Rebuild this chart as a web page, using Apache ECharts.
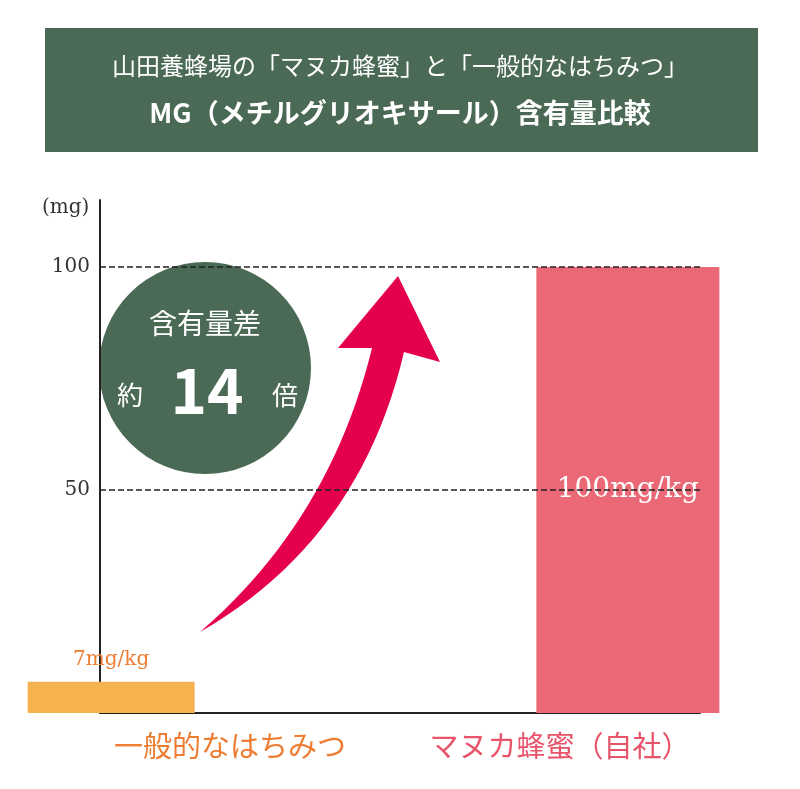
<!DOCTYPE html>
<html><head><meta charset="utf-8">
<script src="https://cdn.jsdelivr.net/npm/echarts@6/dist/echarts.min.js"></script>
<style>html,body{margin:0;padding:0;background:#fff}#c{width:800px;height:789px}</style>
</head><body><div id="c"></div>
<script>
const categories = ['一般的なはちみつ', 'マヌカ蜂蜜（自社）'];
const values = [7, 100];
const valueLabels = ['7mg/kg', '100mg/kg'];
const yTicks = [50, 100];
const barPos = [111, 436];
const barColors = ['#f6b24f', '#eb6877'];

function quad(p0, p1, p2, n) {
  const pts = [];
  for (let i = 0; i <= n; i++) {
    const t = i / n, u = 1 - t;
    pts.push([u*u*p0[0] + 2*u*t*p1[0] + t*t*p2[0], u*u*p0[1] + 2*u*t*p1[1] + t*t*p2[1]]);
  }
  return pts;
}
const arrowPts = quad([200,632],[330,520],[372,348],24)
  .concat([[338,348],[398,276],[440,362]])
  .concat(quad([404,352],[360,540],[200,632],24));

const chart = echarts.init(document.getElementById('c'));
const CJK = '"Noto Sans CJK JP", sans-serif';
const SERIF = '"DejaVu Serif", "Liberation Serif", serif';
chart.setOption({
  animation: false,
  grid: {left: 100, right: 100, top: 200, bottom: 76},
  xAxis: {type: 'value', min: 0, max: 600, axisLine: {show: true, onZero: false, lineStyle: {color: '#222', width: 2}},
    axisTick: {show: false}, axisLabel: {show: false}, splitLine: {show: false}},
  yAxis: {type: 'value', min: 0, max: 115, interval: 50,
    axisLine: {show: true, lineStyle: {color: '#222', width: 2}}, axisTick: {show: false},
    axisLabel: {formatter: v => yTicks.includes(v) ? String(v) : '', fontFamily: SERIF, fontSize: 20, color: '#333', margin: 10},
    splitLine: {show: false}},
  series: [
    {type: 'bar', data: [[barPos[0], values[0]]], barWidth: 167, itemStyle: {color: barColors[0]},
     label: {show: true, position: 'top', formatter: valueLabels[0], fontFamily: SERIF, fontSize: 20, color: '#ee7c32', distance: 12},
     markLine: {silent: true, symbol: 'none', label: {show: false},
       lineStyle: {color: '#222', type: 'dashed', width: 1.5}, data: yTicks.map(v => ({yAxis: v}))}},
    {type: 'bar', data: [[barPos[1], values[1]]], barWidth: 183, itemStyle: {color: barColors[1]},
     label: {show: true, position: 'inside', formatter: valueLabels[1], fontFamily: SERIF, fontSize: 28, color: '#fff'}}
  ],
  graphic: [
    {type: 'rect', shape: {x: 45, y: 28, width: 713, height: 124}, style: {fill: '#4b6a55'}},
    {type: 'text', x: 400, y: 66, style: {text: '山田養蜂場の「マヌカ蜂蜜」と「一般的なはちみつ」', fill: '#fff', font: '24px ' + CJK, align: 'center', verticalAlign: 'middle'}},
    {type: 'text', x: 400, y: 113, style: {text: 'MG（メチルグリオキサール）含有量比較', fill: '#fff', font: 'bold 27px ' + CJK, align: 'center', verticalAlign: 'middle'}},
    {type: 'text', x: 42, y: 208, style: {text: '(mg)', fill: '#333', font: '20px ' + SERIF, verticalAlign: 'middle'}},
    {type: 'polygon', shape: {points: arrowPts}, style: {fill: '#e5004f'}},
    {type: 'circle', shape: {cx: 205, cy: 368, r: 106}, style: {fill: '#4b6a55'}},
    {type: 'text', x: 205, y: 323, style: {text: '含有量差', fill: '#fff', font: '28px ' + CJK, align: 'center', verticalAlign: 'middle'}},
    {type: 'text', x: 130, y: 395, style: {text: '約', fill: '#fff', font: '26px ' + CJK, align: 'center', verticalAlign: 'middle'}},
    {type: 'text', x: 207, y: 390, style: {text: '14', fill: '#fff', font: 'bold 62px ' + CJK, align: 'center', verticalAlign: 'middle'}},
    {type: 'text', x: 285, y: 395, style: {text: '倍', fill: '#fff', font: '26px ' + CJK, align: 'center', verticalAlign: 'middle'}},
    {type: 'text', x: 230, y: 746, style: {text: categories[0], fill: '#ee7c32', font: '29px ' + CJK, align: 'center', verticalAlign: 'middle'}},
    {type: 'text', x: 560, y: 746, style: {text: categories[1], fill: '#e8546a', font: '29px ' + CJK, align: 'center', verticalAlign: 'middle'}}
  ]
});
</script></body></html>
